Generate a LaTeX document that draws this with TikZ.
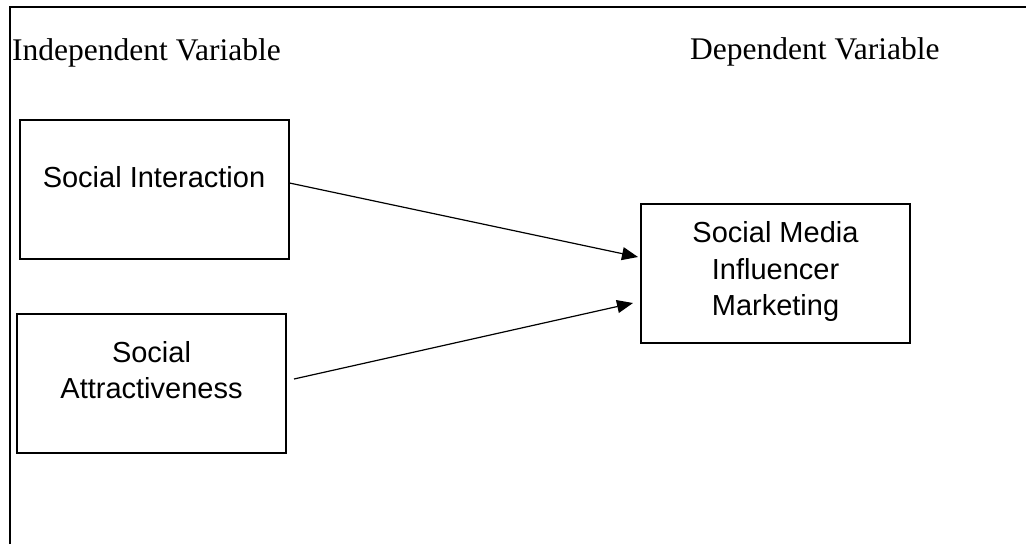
\documentclass[tikz,border=0pt]{standalone}
\usepackage{fontspec}
\setmainfont{Liberation Serif}
\setsansfont{Liberation Sans}
\usetikzlibrary{arrows.meta, positioning}

\begin{document}
\begin{tikzpicture}[
    x=1pt, y=-1pt,
    box/.style={rectangle, draw=black, line width=2pt, minimum width=269pt, minimum height=139pt},
    boxtext/.style={anchor=north, inner sep=0pt, align=center, font=\sffamily\fontsize{29}{36.5}\selectfont},
    head/.style={anchor=base west, inner sep=0pt, font=\fontsize{31.5}{37}\selectfont},
    arr/.style={-{Triangle[length=16pt, width=13pt]}, line width=1.2pt},
]
\useasboundingbox (0,0) rectangle (1026,544);

% Frame
\draw[line width=2pt] (9.5,544) -- (9.5,6.5) -- (1026,6.5);

% Headings
\node[head] (indep) at (12,60) {Independent Variable};
\node[head] (dep) at (690,59.5) {Dependent Variable};

% Boxes
\node[box] (si) at (154,189.5) {};
\node[box] (sa) at (151.5,383.5) {};
\node[box] (smim) at (775.5,273) {};

% Box texts
\node[boxtext] (sitext) at ([yshift=-47pt]si.north) {Social Interaction};
\node[boxtext] (satext) at ([yshift=-28pt]sa.north) {Social\\Attractiveness};
\node[boxtext] (smimtext) at ([yshift=-19pt]smim.north) {Social Media\\Influencer\\Marketing};

% Arrows
\draw[arr] ([yshift=6.5pt]si.east) -- ([xshift=-2pt, yshift=16pt]smim.west);
\draw[arr] ([xshift=7pt, yshift=4.5pt]sa.east) -- ([xshift=-7pt, yshift=-30pt]smim.west);

\end{tikzpicture}
\end{document}
